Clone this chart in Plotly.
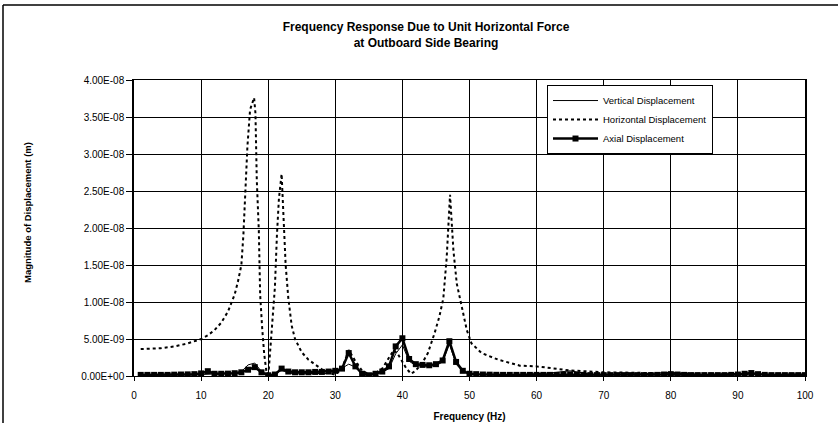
import plotly.graph_objects as go

# ---------------- data (displacement magnitudes in units of 1e-9 m) ----------------
axial_freq = list(range(1, 101))
axial_nm = [0.15, 0.15, 0.15, 0.15, 0.15, 0.18, 0.2, 0.22, 0.25, 0.35,
            0.65, 0.3, 0.3, 0.32, 0.38, 0.5, 0.85, 1.2, 0.5, 0.1,
            0.2, 1.0, 0.6, 0.5, 0.5, 0.5, 0.55, 0.55, 0.6, 0.7,
            1.0, 3.1, 1.3, 0.3, 0.1, 0.3, 0.6, 1.3, 4.0, 5.1,
            2.3, 1.6, 1.5, 1.45, 1.6, 2.1, 4.7, 1.9, 0.7, 0.3,
            0.25, 0.2, 0.18, 0.16, 0.15, 0.15, 0.15, 0.15, 0.15, 0.15,
            0.15, 0.15, 0.15, 0.18, 0.22, 0.18, 0.15, 0.12, 0.12, 0.12,
            0.12, 0.12, 0.12, 0.12, 0.12, 0.12, 0.12, 0.15, 0.2, 0.25,
            0.2, 0.15, 0.12, 0.12, 0.12, 0.12, 0.12, 0.12, 0.15, 0.2,
            0.3, 0.4, 0.25, 0.15, 0.12, 0.12, 0.12, 0.12, 0.12, 0.12]

vert_freq = list(range(1, 101))
vert_nm = [0.08, 0.08, 0.08, 0.08, 0.1, 0.1, 0.1, 0.12, 0.15, 0.2,
           0.25, 0.25, 0.28, 0.32, 0.4, 0.6, 1.5, 1.75, 0.6, 0.1,
           0.3, 0.8, 0.4, 0.3, 0.3, 0.3, 0.3, 0.3, 0.35, 0.5,
           1.1, 1.6, 1.2, 0.4, 0.1, 0.25, 0.5, 1.0, 3.0, 4.2,
           2.0, 1.4, 1.3, 1.3, 1.4, 1.9, 4.3, 1.6, 0.6, 0.25,
           0.2, 0.18, 0.16, 0.16, 0.16, 0.18, 0.2, 0.22, 0.25, 0.3,
           0.35, 0.4, 0.5, 0.6, 0.7, 0.55, 0.35, 0.25, 0.2, 0.2,
           0.2, 0.2, 0.22, 0.25, 0.28, 0.3, 0.35, 0.4, 0.45, 0.5,
           0.4, 0.3, 0.25, 0.2, 0.2, 0.2, 0.2, 0.22, 0.25, 0.3,
           0.35, 0.3, 0.25, 0.2, 0.18, 0.15, 0.15, 0.15, 0.15, 0.15]

horiz_freq = [1, 2, 4, 6, 8, 10, 11, 12, 13, 14, 15, 15.5, 16, 16.3, 16.6, 16.9,
              17.3, 17.9, 18.1, 18.3, 18.6, 18.8, 19.1, 19.4, 19.7, 19.9, 20.1,
              20.3, 20.6, 20.8, 21.0, 21.3, 21.6, 22.0, 22.3, 22.6, 23.0, 23.5,
              24, 25, 26, 27, 28, 29, 30, 31, 32, 33, 34, 35, 36, 37, 38, 38.7,
              39.3, 40, 40.6, 41.3, 41.8, 42.8, 43.8, 44.8, 45.5, 46.1, 46.6,
              47.1, 47.6, 48.1, 48.6, 49.6, 50.3, 51.8, 54.3, 57.5, 60, 65, 70,
              75, 80, 85, 90, 95, 100]
horiz_nm = [3.65, 3.68, 3.75, 4.0, 4.4, 5.0, 5.5, 6.2, 7.2, 8.7, 11.0, 12.8, 15.0,
            19.0, 25.0, 31.0, 36.0, 37.6, 35.5, 26.5, 19.7, 11.0, 6.5, 3.0, 0.8,
            0.2, 1.0, 3.2, 6.5, 9.0, 12.0, 19.0, 24.0, 27.3, 21.0, 15.0, 10.5,
            6.8, 5.0, 3.2, 2.2, 1.5, 0.9, 0.45, 0.15, 1.0, 3.5, 2.0, 0.7, 0.25,
            0.4, 1.0, 2.4, 3.5, 3.0, 2.0, 1.0, 0.3, 0.6, 1.5, 3.1, 5.8, 8.0,
            10.5, 16.0, 24.5, 17.0, 12.5, 10.3, 6.2, 4.4, 3.1, 2.2, 1.4, 1.3,
            0.75, 0.5, 0.4, 0.35, 0.3, 0.25, 0.22, 0.2]

y_tick_vals = [0, 5e-9, 1e-8, 1.5e-8, 2e-8, 2.5e-8, 3e-8, 3.5e-8, 4e-8]
y_tick_labels = ["0.00E+00", "5.00E-09", "1.00E-08", "1.50E-08", "2.00E-08",
                 "2.50E-08", "3.00E-08", "3.50E-08", "4.00E-08"]
x_tick_vals = [0, 10, 20, 30, 40, 50, 60, 70, 80, 90, 100]

NM = 1e-9
FONT = "Liberation Sans, Arial, sans-serif"

fig = go.Figure()
fig.add_trace(go.Scatter(
    x=vert_freq, y=[v * NM for v in vert_nm], mode="lines",
    name="Vertical Displacement", line=dict(color="black", width=1)))
fig.add_trace(go.Scatter(
    x=horiz_freq, y=[v * NM for v in horiz_nm], mode="lines",
    name="Horizontal Displacement",
    line=dict(color="black", width=2, dash="3px,3px")))
fig.add_trace(go.Scatter(
    x=axial_freq, y=[v * NM for v in axial_nm], mode="lines+markers",
    name="Axial Displacement", line=dict(color="black", width=2.5),
    marker=dict(symbol="square", size=6, color="black")))

fig.update_layout(
    width=838, height=423,
    margin=dict(l=134, r=33, t=80, b=47, autoexpand=False),
    paper_bgcolor="white", plot_bgcolor="white",
    font=dict(family=FONT, color="black", size=10),
    showlegend=True,
    legend=dict(x=0.6155, y=0.983, xanchor="left", yanchor="top",
                bgcolor="white", bordercolor="black", borderwidth=1,
                font=dict(size=9.5), itemwidth=45, tracegroupgap=0),
    title=dict(text="<b>Frequency Response Due to Unit Horizontal Force<br>at Outboard Side Bearing</b>",
               x=426 / 838, xref="container", xanchor="center",
               y=1 - 31 / 423, yref="container", yanchor="top",
               font=dict(size=12, family=FONT)),
)
fig.update_xaxes(range=[0, 100], tickvals=x_tick_vals, showgrid=True,
                 gridcolor="black", gridwidth=1, showline=True, linecolor="black",
                 linewidth=1, mirror=True, ticks="outside", ticklen=4,
                 tickcolor="black", zeroline=False, ticklabelstandoff=6,
                 tickfont=dict(size=10), automargin=False,
                 title=dict(text="<b>Frequency (Hz)</b>", font=dict(size=10), standoff=12))
fig.update_yaxes(range=[0, 4e-8], tickvals=y_tick_vals, ticktext=y_tick_labels,
                 showgrid=True, gridcolor="black", gridwidth=1, showline=True,
                 linecolor="black", linewidth=1.5, mirror=True, ticks="outside",
                 ticklen=6, tickcolor="black", zeroline=False, automargin=False,
                 tickfont=dict(size=10))
fig.add_annotation(text="<b>Magnitude of Displacement (m)</b>", textangle=-90,
                   xref="paper", yref="paper", x=(27 - 134) / 671, y=(376 - 213) / 296,
                   showarrow=False, font=dict(size=9.5), xanchor="center", yanchor="middle")
# outer chart-area frame (left and top edges visible in the picture)
fig.add_shape(type="line", xref="paper", yref="paper",
              x0=(3 - 134) / 671, x1=(3 - 134) / 671,
              y0=(376 - 480) / 296, y1=(376 - 5) / 296,
              line=dict(color="black", width=1.5), layer="below")
fig.add_shape(type="line", xref="paper", yref="paper",
              x0=(3 - 134) / 671, x1=(950 - 134) / 671,
              y0=(376 - 5) / 296, y1=(376 - 5) / 296,
              line=dict(color="black", width=1.5), layer="below")
# keep the far right margin blank
fig.add_shape(type="rect", xref="paper", yref="paper",
              x0=(826 - 134) / 671, x1=(860 - 134) / 671,
              y0=(376 - 440) / 296, y1=(376 - 7) / 296,
              line=dict(width=0), fillcolor="white", layer="above")

fig.write_html("out.html")
